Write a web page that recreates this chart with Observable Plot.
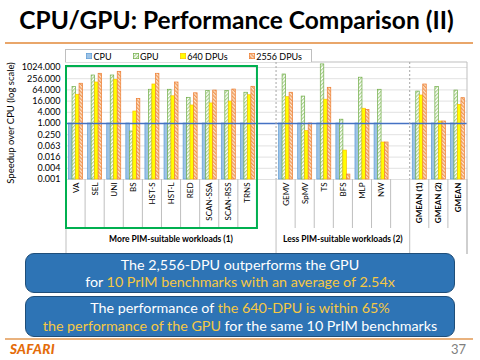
<!DOCTYPE html>
<html>
<head>
<meta charset="utf-8">
<script src="https://cdn.jsdelivr.net/npm/d3@7"></script>
<script src="https://cdn.jsdelivr.net/npm/@observablehq/plot@0.6"></script>
<style>
  html, body { margin: 0; padding: 0; background: #fff; }
  #page { position: relative; width: 480px; height: 360px; overflow: hidden; font-family: Lato, "Open Sans", sans-serif; background: #fff; }
  #title { position: absolute; left: 0; top: 5px; width: 473px; text-align: center; font-weight: 700; font-size: 24.5px; line-height: 30px; color: #000; white-space: nowrap; }
  .rule { position: absolute; left: 5px; width: 468px; height: 2px; }
  #chart { position: absolute; left: 0; top: 45px; }
  #legend { position: absolute; left: 65px; top: 49px; width: 247px; height: 13px; border: 1px solid #bfbfbf; border-bottom: none; background: #fff; display: flex; align-items: center; gap: 21px; padding-left: 20px; box-sizing: border-box; font-size: 9px; color: #000; }
  #legend .item { display: flex; align-items: center; }
  #legend svg { margin-right: 1.5px; }
  .box { position: absolute; left: 25px; width: 430px; box-sizing: border-box; border: 1.5px solid #1f4e79; border-radius: 9px; background: #2e74b5; color: #fff; font-size: 14.3px; line-height: 17.5px; text-align: center; display: flex; flex-direction: column; justify-content: center; white-space: nowrap; }
  .hl { color: #f6c844; }
  #safari { position: absolute; left: 10px; top: 341px; font-size: 13.5px; font-weight: 900; font-style: italic; color: #e46c0a; letter-spacing: 0.3px; }
  #pageno { position: absolute; left: 451px; top: 341px; font-size: 13px; color: #7f7f7f; }
</style>
</head>
<body>
<svg width="0" height="0" style="position:absolute">
  <defs>
    <pattern id="hatchGPU" patternUnits="userSpaceOnUse" width="2.6" height="2.6" patternTransform="rotate(45)">
      <rect width="2.6" height="2.6" fill="#ffffff"></rect>
      <rect width="1.2" height="2.6" fill="#a9d18e"></rect>
    </pattern>
    <pattern id="hatchDPU" patternUnits="userSpaceOnUse" width="2.6" height="2.6" patternTransform="rotate(-45)">
      <rect width="2.6" height="2.6" fill="#fde4cf"></rect>
      <rect width="1.3" height="2.6" fill="#f09a56"></rect>
    </pattern>
  </defs>
</svg>
<div id="page">
  <div id="title">CPU/GPU: Performance Comparison (II)</div>
  <div class="rule" style="top:42px;background:#e9a66a"></div>
  <div id="chart"></div>
  <div id="legend"></div>
  <div class="box" style="top:253px;height:40px">
    <div>The 2,556-DPU outperforms the GPU</div>
    <div>for <span class="hl">10 PrIM benchmarks with an average of 2.54x</span></div>
  </div>
  <div class="box" style="top:296px;height:41px">
    <div>The performance of <span class="hl">the 640-DPU is within 65%</span></div>
    <div><span class="hl">the performance of the GPU</span> for the same 10 PrIM benchmarks</div>
  </div>
  <div class="rule" style="top:338px;background:#e9b27e"></div>
  <div id="safari">SAFARI</div>
  <div id="pageno">37</div>
</div>
<script>
// ---------- data ----------
const categories = ["VA","SEL","UNI","BS","HST-S","HST-L","RED","SCAN-SSA","SCAN-RSS","TRNS"," ",
                    "GEMV","SpMV","TS","BFS","MLP","NW","  ","GMEAN (1)","GMEAN (2)","GMEAN"];
const workloads = ["VA","SEL","UNI","BS","HST-S","HST-L","RED","SCAN-SSA","SCAN-RSS","TRNS",
                   "GEMV","SpMV","TS","BFS","MLP","NW","GMEAN (1)","GMEAN (2)","GMEAN"];
const seriesNames = ["CPU","GPU","640 DPUs","2556 DPUs"];
const cpu     = [1,1,1,1,1,1,1,1,1,1,1,1,1,1,1,1,1,1,1];
const gpu     = [90,380,380,0.37,65,65,24,55,55,45,430,28,1500,1.6,290,65,52,90,59];
const dpu640  = [35,160,223,4.4,125,29,9.3,12,15,33,26,0.39,19,0.035,6.2,0.095,32,1.28,10];
const dpu2556 = [137,470,600,21,470,160,42,59,67,94,45,1.0,83,0.0018,5.4,0.095,125,1.28,23];
const yTicks = [1024,256,64,16,4,1,0.25,0.0625,0.015625,0.00390625,0.0009765625];
const yTickLabels = ["1024.000","256.000","64.000","16.000","4.000","1.000","0.250","0.063","0.016","0.004","0.001"];
const groupLabels = ["More PIM-suitable workloads (1)","Less PIM-suitable workloads (2)",""];
const groupStarts = ["VA","GEMV","GMEAN (1)"];
const highlighted = ["VA","TRNS"];
const yLabel = "Speedup over CPU (log scale)";

const rows = workloads.map((w, i) => ({
  workload: w, "CPU": cpu[i], "GPU": gpu[i], "640 DPUs": dpu640[i], "2556 DPUs": dpu2556[i]
}));

// ---------- styles ----------
const styles = {
  "CPU":       {fill: "#9dc3e6", stroke: "#5b9bd5"},
  "GPU":       {fill: "url(#hatchGPU)", stroke: "#70ad47"},
  "640 DPUs":  {fill: "#ffff00", stroke: "#ffc000"},
  "2556 DPUs": {fill: "url(#hatchDPU)", stroke: "#ed7d31"}
};
const W = 480, H = 210, mL = 66, mR = 13, mT = 22, mB = 76;
const yMin = yTicks[yTicks.length - 1], yMax = yTicks[0];
const bw = (W - mL - mR) / categories.length;
const barW = 3.5, pad = (bw - barW * seriesNames.length) / 2;

const chart = Plot.plot({
  width: W, height: H,
  marginLeft: mL, marginRight: mR, marginTop: mT, marginBottom: mB,
  style: {background: "transparent", fontFamily: "Lato, sans-serif", fontSize: "8px", color: "#000", overflow: "visible"},
  x: {type: "band", domain: categories, paddingInner: 0, paddingOuter: 0, round: false,
      tickSize: 0, tickRotate: -90, tickPadding: 3, label: null},
  y: {type: "log", base: 2, domain: [yMin, yMax], ticks: yTicks,
      tickFormat: d => yTickLabels[yTicks.indexOf(d)], tickSize: 0, tickPadding: 6, label: null},
  marks: [
    Plot.ruleY(yTicks, {stroke: "#d9d9d9", strokeWidth: 0.8}),
    ...seriesNames.map((s, i) => Plot.barY(rows, {
      x: "workload", y1: yMin, y2: s,
      fill: styles[s].fill, stroke: styles[s].stroke, strokeWidth: 0.7,
      insetLeft: pad + i * barW, insetRight: bw - pad - (i + 1) * barW
    })),
    Plot.ruleY([1], {stroke: "#4472c4", strokeWidth: 1.5})
  ]
});
document.getElementById("chart").append(chart);

// ---------- decorations using the plot's scales ----------
const svg = d3.select(chart);
const xs = chart.scale("x"), ys = chart.scale("y");
const edge = c => xs.apply(c);
const xRight = xs.apply(categories[categories.length - 1]) + xs.bandwidth;
const xLeft = edge(categories[0]);
const yTop = ys.apply(yMax), yBot = ys.apply(yMin);
const borderTop = yTop - 5, shortBot = yBot + 49, longBot = yBot + 75;

// font tweaks for axis labels
svg.selectAll("text").each(function() {
  const t = this.textContent;
  if (yTickLabels.includes(t)) d3.select(this).style("font-size", "9px");
  if (t.startsWith("GMEAN")) d3.select(this).style("font-weight", "700");
});

const g = svg.append("g").attr("fill", "none");
// chart border
g.append("line").attr("x1", xLeft - 1).attr("x2", xRight).attr("y1", borderTop).attr("y2", borderTop).attr("stroke", "#bfbfbf");
g.append("line").attr("x1", xRight).attr("x2", xRight).attr("y1", borderTop).attr("y2", longBot).attr("stroke", "#bfbfbf");
// category separators
for (let i = 0; i <= categories.length; i++) {
  const x = i < categories.length ? edge(categories[i]) : xRight;
  const long = i === categories.length || groupStarts.includes(categories[i]);
  g.append("line").attr("x1", x).attr("x2", x).attr("y1", yBot).attr("y2", long ? longBot : shortBot)
    .attr("stroke", "#bfbfbf").attr("stroke-width", 1);
}
// dashed group dividers
groupStarts.slice(1).forEach(c => {
  g.append("line").attr("x1", edge(c)).attr("x2", edge(c)).attr("y1", borderTop).attr("y2", yBot)
    .attr("stroke", "#a6a6a6").attr("stroke-dasharray", "2,2");
});
// highlight box
const hx1 = edge(highlighted[0]), hx2 = edge(highlighted[1]) + xs.bandwidth;
g.append("rect").attr("x", hx1).attr("y", yTop - 1).attr("width", hx2 - hx1).attr("height", shortBot - yTop + 1)
  .attr("stroke", "#00b050").attr("stroke-width", 2);
// group labels
groupStarts.forEach((c, k) => {
  const x1 = edge(c), x2 = k + 1 < groupStarts.length ? edge(groupStarts[k + 1]) : xRight;
  svg.append("text").attr("x", (x1 + x2) / 2).attr("y", yBot + 61).attr("text-anchor", "middle")
    .attr("dominant-baseline", "middle").style("font-size", "8.5px").style("font-weight", "700")
    .attr("fill", "#000").text(groupLabels[k]);
});
// y axis title
svg.append("text").attr("transform", `translate(12,${(yTop + yBot) / 2}) rotate(-90)`)
  .attr("text-anchor", "middle").attr("dominant-baseline", "middle")
  .style("font-size", "9.5px").attr("fill", "#000").text(yLabel);

// ---------- legend ----------
const legend = d3.select("#legend");
seriesNames.forEach(s => {
  const item = legend.append("div").attr("class", "item");
  const sw = item.append("svg").attr("width", 6).attr("height", 6);
  sw.append("rect").attr("x", 0.35).attr("y", 0.35).attr("width", 5.3).attr("height", 5.3)
    .attr("fill", styles[s].fill).attr("stroke", styles[s].stroke).attr("stroke-width", 0.7);
  item.append("span").text(s);
});
</script>
</body>
</html>
